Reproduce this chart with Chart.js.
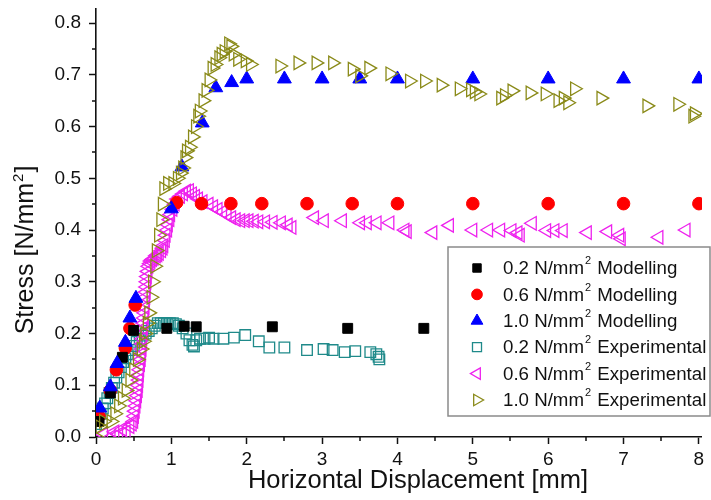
<!DOCTYPE html>
<html><head><meta charset="utf-8">
<script src="https://cdn.jsdelivr.net/npm/chart.js@4.4.1/dist/chart.umd.min.js"></script>
<style>html,body{margin:0;padding:0;background:#fff;}canvas{display:block;}</style>
</head><body>
<canvas id="c" width="711" height="500" style="width:711px;height:500px"></canvas>
<script>
// ---- tick values / labels ----
const xTickValues = [0,1,2,3,4,5,6,7,8];
const xTickLabels = ['0','1','2','3','4','5','6','7','8'];
const yTickValues = [0,0.1,0.2,0.3,0.4,0.5,0.6,0.7,0.8];
const yTickLabels = ['0.0','0.1','0.2','0.3','0.4','0.5','0.6','0.7','0.8'];
const xMinorTicks = [0.5,1.5,2.5,3.5,4.5,5.5,6.5,7.5];
const yMinorTicks = [0.05,0.15,0.25,0.35,0.45,0.55,0.65,0.75];
const xTitle = 'Horizontal Displacement [mm]';
const yTitle = 'Stress [N/mm\u00b2]';

// ---- series labels ----
const seriesLabels = [
  '0.2 N/mm\u00b2 Modelling',
  '0.6 N/mm\u00b2 Modelling',
  '1.0 N/mm\u00b2 Modelling',
  '0.2 N/mm\u00b2 Experimental',
  '0.6 N/mm\u00b2 Experimental',
  '1.0 N/mm\u00b2 Experimental'
];

// ---- series values [displacement mm, stress N/mm2] ----
const mod02 = [[0.04,0.03],[0.19,0.085],[0.35,0.154],[0.5,0.206],[0.94,0.21],[1.17,0.214],[1.33,0.213],[2.34,0.213],[3.34,0.21],[4.35,0.21]];
const mod06 = [[0.04,0.04],[0.19,0.09],[0.27,0.13],[0.39,0.172],[0.45,0.21],[0.52,0.255],[1.07,0.453],[1.4,0.451],[1.79,0.451],[2.2,0.451],[2.8,0.451],[3.4,0.451],[4.0,0.451],[5.0,0.451],[6.0,0.451],[7.0,0.451],[8.0,0.451]];
const mod10 = [[0.05,0.056],[0.19,0.097],[0.28,0.142],[0.39,0.183],[0.45,0.23],[0.53,0.268],[1.0,0.441],[1.14,0.522],[1.41,0.607],[1.59,0.675],[1.8,0.685],[2.0,0.692],[2.5,0.692],[3.0,0.692],[3.5,0.692],[4.0,0.692],[5.0,0.692],[6.0,0.692],[7.0,0.692],[8.0,0.692]];
const exp02 = [[0.0,0.025],[0.03,0.035],[0.06,0.045],[0.09,0.055],[0.12,0.065],[0.15,0.075],[0.18,0.085],[0.21,0.095],[0.24,0.105],[0.27,0.115],[0.3,0.125],[0.33,0.135],[0.36,0.145],[0.39,0.152],[0.42,0.16],[0.46,0.168],[0.5,0.176],[0.54,0.184],[0.58,0.19],[0.62,0.196],[0.66,0.2],[0.7,0.205],[0.74,0.21],[0.78,0.215],[0.82,0.22],[0.86,0.22],[0.9,0.22],[0.94,0.22],[0.98,0.22],[1.02,0.22],[1.06,0.218],[1.1,0.215],[1.15,0.21],[1.2,0.2],[1.24,0.187],[1.28,0.178],[1.3,0.175],[1.33,0.187],[1.38,0.19],[1.44,0.19],[1.5,0.192],[1.56,0.19],[1.69,0.19],[1.83,0.192],[1.98,0.197],[2.16,0.185],[2.3,0.173],[2.5,0.173],[2.8,0.168],[3.02,0.17],[3.14,0.168],[3.3,0.164],[3.44,0.166],[3.64,0.164],[3.72,0.16],[3.75,0.155],[3.76,0.15]];
const exp06 = [[0.1,0.005],[0.2,0.0],[0.25,0.01],[0.3,0.005],[0.35,0.015],[0.4,0.01],[0.45,0.02],[0.48,0.025],[0.5,0.03],[0.51,0.04],[0.52,0.05],[0.53,0.06],[0.54,0.07],[0.55,0.08],[0.56,0.09],[0.565,0.1],[0.57,0.11],[0.575,0.12],[0.58,0.13],[0.59,0.14],[0.6,0.15],[0.605,0.16],[0.61,0.17],[0.615,0.18],[0.62,0.19],[0.625,0.2],[0.63,0.21],[0.635,0.22],[0.64,0.23],[0.645,0.24],[0.65,0.25],[0.655,0.26],[0.66,0.27],[0.665,0.28],[0.67,0.29],[0.675,0.3],[0.68,0.31],[0.69,0.32],[0.7,0.33],[0.72,0.335],[0.73,0.34],[0.75,0.343],[0.77,0.345],[0.8,0.35],[0.82,0.352],[0.84,0.355],[0.87,0.36],[0.89,0.365],[0.9,0.37],[0.92,0.38],[0.93,0.39],[0.95,0.4],[0.96,0.41],[0.98,0.42],[0.99,0.43],[1.02,0.44],[1.05,0.45],[1.08,0.46],[1.12,0.465],[1.16,0.47],[1.2,0.475],[1.24,0.476],[1.28,0.47],[1.32,0.465],[1.36,0.46],[1.42,0.455],[1.5,0.45],[1.56,0.445],[1.62,0.44],[1.68,0.435],[1.74,0.43],[1.8,0.424],[1.86,0.42],[1.92,0.418],[1.98,0.418],[2.03,0.418],[2.1,0.417],[2.16,0.416],[2.25,0.416],[2.35,0.415],[2.46,0.414],[2.55,0.41],[2.6,0.405],[2.9,0.424],[3.03,0.418],[3.27,0.418],[3.51,0.414],[3.6,0.414],[3.73,0.414],[3.9,0.414],[4.1,0.40],[4.13,0.397],[4.47,0.395],[4.69,0.409],[5.0,0.4],[5.21,0.4],[5.37,0.4],[5.52,0.399],[5.6,0.395],[5.63,0.39],[5.79,0.413],[5.98,0.399],[6.09,0.399],[6.2,0.399],[6.52,0.395],[6.79,0.397],[6.95,0.39],[6.97,0.383],[7.47,0.386],[7.83,0.4]];
const exp10 = [[0.0,0.0],[0.05,0.02],[0.1,0.03],[0.2,0.03],[0.25,0.045],[0.3,0.06],[0.35,0.075],[0.4,0.09],[0.45,0.11],[0.5,0.13],[0.55,0.15],[0.6,0.17],[0.63,0.185],[0.65,0.2],[0.68,0.22],[0.7,0.24],[0.73,0.27],[0.75,0.3],[0.78,0.33],[0.8,0.36],[0.83,0.39],[0.86,0.42],[0.88,0.45],[0.9,0.48],[0.95,0.49],[1.02,0.49],[1.08,0.5],[1.12,0.51],[1.15,0.52],[1.18,0.54],[1.2,0.553],[1.24,0.56],[1.28,0.58],[1.32,0.6],[1.35,0.62],[1.37,0.63],[1.42,0.65],[1.46,0.67],[1.5,0.69],[1.54,0.713],[1.58,0.72],[1.63,0.733],[1.66,0.74],[1.7,0.745],[1.76,0.76],[1.79,0.755],[1.82,0.74],[1.88,0.73],[1.98,0.727],[2.05,0.72],[2.44,0.717],[2.68,0.723],[2.92,0.723],[3.14,0.723],[3.4,0.711],[3.5,0.698],[3.62,0.713],[3.9,0.702],[4.16,0.688],[4.36,0.688],[4.58,0.68],[4.82,0.673],[4.97,0.671],[5.02,0.667],[5.08,0.663],[5.37,0.655],[5.42,0.66],[5.52,0.669],[5.76,0.665],[5.96,0.663],[6.13,0.65],[6.2,0.655],[6.26,0.646],[6.35,0.673],[6.7,0.655],[7.31,0.64],[7.72,0.643],[7.92,0.62],[7.94,0.625]];

const FONT = "'Liberation Sans', Arial, Helvetica, sans-serif";
const toPts = a => a.map(p => ({x: p[0], y: p[1]}));

function ds(label, data, style, color, fill, radius, rotation, order, bw) {
  return {
    label, data: toPts(data), order,
    pointStyle: style, pointRotation: rotation, pointRadius: radius, pointHoverRadius: radius,
    pointBorderColor: color, pointBackgroundColor: fill ? color : 'rgba(0,0,0,0)',
    pointBorderWidth: bw, borderColor: color, backgroundColor: fill ? color : 'rgba(0,0,0,0)',
    showLine: false
  };
}

const datasets = [
  ds(seriesLabels[0], mod02, 'rect', '#000000', true, 7, 0, 2, 1),
  ds(seriesLabels[1], mod06, 'circle', '#ff0000', true, 6.3, 0, 3, 1),
  ds(seriesLabels[2], mod10, 'triangle', '#0000ff', true, 8, 0, 1, 1),
  ds(seriesLabels[3], exp02, 'rect', '#1f8a8a', false, 7.5, 0, 5, 1.3),
  ds(seriesLabels[4], exp06, 'triangle', '#ee22ee', false, 7.8, -90, 4, 1.3),
  ds(seriesLabels[5], exp10, 'triangle', '#8a8a18', false, 7.8, 90, 0, 1.3)
];

function drawSupText(ctx, text, x, y, size, align) {
  // renders '²' as a raised small '2'
  const parts = text.split('\u00b2');
  const supSize = Math.round(size * 0.6);
  const segs = [];
  parts.forEach((p, i) => {
    if (p) segs.push({t: p, sup: false});
    if (i < parts.length - 1) segs.push({t: '2', sup: true});
  });
  let total = 0;
  segs.forEach(s => {
    ctx.font = (s.sup ? supSize : size) + 'px ' + FONT;
    s.w = ctx.measureText(s.t).width + (s.sup ? 2 : 0);
    total += s.w;
  });
  let cx = align === 'center' ? x - total / 2 : x;
  segs.forEach(s => {
    ctx.font = (s.sup ? supSize : size) + 'px ' + FONT;
    ctx.fillText(s.t, cx + (s.sup ? 1 : 0), s.sup ? y - size * 0.42 : y);
    cx += s.w;
  });
}

function markerFallback(ctx, d, x, y) {
  const r = d.pointRadius;
  ctx.beginPath();
  if (d.pointStyle === 'circle') ctx.arc(x, y, r, 0, Math.PI * 2);
  else if (d.pointStyle === 'rect') { const s = r * Math.SQRT1_2; ctx.rect(x - s, y - s, 2 * s, 2 * s); }
  else {
    let a = (d.pointRotation || 0) * Math.PI / 180;
    ctx.moveTo(x + Math.sin(a) * r, y - Math.cos(a) * r);
    for (let k = 0; k < 2; k++) { a += 2 * Math.PI / 3; ctx.lineTo(x + Math.sin(a) * r, y - Math.cos(a) * r); }
    ctx.closePath();
  }
  ctx.fill(); ctx.stroke();
}

const decor = {
  id: 'decor',
  afterDraw(chart) {
    const ctx = chart.ctx;
    const xs = chart.scales.x, ys = chart.scales.y;
    const ca = chart.chartArea;
    ctx.save();
    // minor ticks
    ctx.strokeStyle = '#111'; ctx.lineWidth = 1.5;
    ctx.beginPath();
    xMinorTicks.forEach(v => { const p = Math.round(xs.getPixelForValue(v)); ctx.moveTo(p, ca.bottom); ctx.lineTo(p, ca.bottom + 4); });
    yMinorTicks.forEach(v => { const p = Math.round(ys.getPixelForValue(v)); ctx.moveTo(ca.left, p); ctx.lineTo(ca.left - 4, p); });
    ctx.stroke();
    // axis titles
    ctx.fillStyle = '#111';
    ctx.textBaseline = 'alphabetic';
    ctx.textAlign = 'left';
    drawSupText(ctx, xTitle, 418, 488, 25.5, 'center');
    ctx.save();
    ctx.translate(33, 250);
    ctx.rotate(-Math.PI / 2);
    drawSupText(ctx, yTitle, 0, 0, 25, 'center');
    ctx.restore();
    // legend
    const lx = 448, ly = 247, lw = 262, lh = 169;
    ctx.fillStyle = '#fff';
    ctx.fillRect(lx, ly, lw, lh);
    ctx.strokeStyle = '#8a8a8a'; ctx.lineWidth = 1.5;
    ctx.strokeRect(lx, ly, lw, lh);
    chart.data.datasets.forEach((d, i) => {
      const yy = 268 + i * 26.4;
      ctx.save();
      ctx.fillStyle = d.pointBackgroundColor;
      ctx.strokeStyle = d.pointBorderColor;
      ctx.lineWidth = d.pointBorderWidth;
      const opts = {pointStyle: d.pointStyle, rotation: d.pointRotation || 0, radius: d.pointRadius * 0.85, borderWidth: d.pointBorderWidth};
      if (window.Chart && Chart.helpers && Chart.helpers.drawPoint) Chart.helpers.drawPoint(ctx, opts, 477, yy);
      else markerFallback(ctx, Object.assign({}, d, {pointRadius: d.pointRadius * 0.85}), 477, yy);
      ctx.restore();
      ctx.fillStyle = '#111';
      ctx.textBaseline = 'middle';
      ctx.textAlign = 'left';
      drawSupText(ctx, d.label, 503, yy + 1, 18.7, 'left');
    });
    ctx.restore();
  }
};

function fixAxis(scale, isX) {
  if (isX) scale.height = 63; else scale.width = 96;
  scale.paddingLeft = 0; scale.paddingRight = 0; scale.paddingTop = 0; scale.paddingBottom = 0;
}

new Chart(document.getElementById('c'), {
  type: 'scatter',
  data: {datasets},
  options: {
    responsive: false, animation: false, devicePixelRatio: 1,
    layout: {padding: {top: 8, right: 2, left: 0, bottom: 0}},
    plugins: {legend: {display: false}, tooltip: {enabled: false}},
    scales: {
      x: {
        type: 'linear', min: 0, max: 8.04,
        afterBuildTicks: s => { s.ticks = xTickValues.map(v => ({value: v})); },
        afterFit: s => fixAxis(s, true),
        ticks: {callback: (v, i) => xTickLabels[i], font: {family: FONT, size: 19}, color: '#111', padding: 4, maxRotation: 0, autoSkip: false},
        grid: {display: true, drawOnChartArea: false, drawTicks: true, tickLength: 7, tickWidth: 1.5, tickColor: '#111'},
        border: {display: true, color: '#111', width: 1.6}
      },
      y: {
        type: 'linear', min: 0, max: 0.827,
        afterBuildTicks: s => { s.ticks = yTickValues.map(v => ({value: v})); },
        afterFit: s => fixAxis(s, false),
        ticks: {callback: (v, i) => yTickLabels[i], font: {family: FONT, size: 19}, color: '#111', padding: 8, autoSkip: false},
        grid: {display: true, drawOnChartArea: false, drawTicks: true, tickLength: 7, tickWidth: 1.5, tickColor: '#111'},
        border: {display: true, color: '#111', width: 1.6}
      }
    }
  },
  plugins: [decor]
});
</script>
</body></html>
